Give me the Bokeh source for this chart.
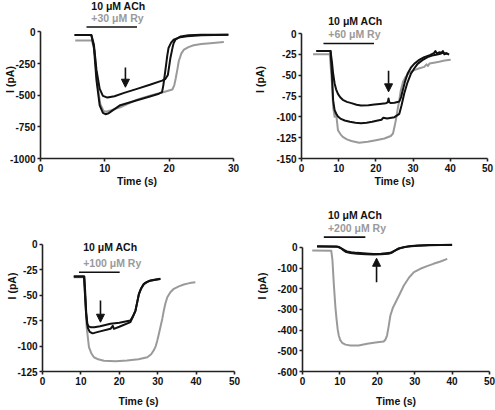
from bokeh.plotting import figure
from bokeh.layouts import column, row
from bokeh.models import Label, Arrow, NormalHead, FixedTicker, LinearAxis
from bokeh.embed import file_html
from bokeh.resources import INLINE

FONT = "Liberation Sans"
GRAY = "#9a9a9a"
BLACK = "#111111"

# ---------------- data ----------------
# Panel 1: 10 uM ACh + 30 uM Ry
p1_t_gray = [5.4, 8.0, 8.4, 8.8, 9.3, 9.8, 10.2, 11, 12.4, 15.0, 17, 19.2, 20.5, 20.8, 21.0, 21.3, 21.5, 21.9, 22.3, 23, 23.8, 25, 26.4, 28.5]
p1_i_gray = [-68, -68, -150, -400, -570, -625, -630, -618, -595, -535, -505, -475, -455, -420, -372, -290, -230, -170, -140, -120, -106, -95, -89, -80]
p1_t_blk_a = [5.3, 7.9, 8.3, 8.7, 9.2, 9.7, 10.4, 11.5, 13, 15, 17, 18.9, 19.4, 19.8, 20.2, 20.5, 20.7, 21.0, 21.8, 23, 25, 29.2]
p1_i_blk_a = [-25, -25, -100, -300, -450, -505, -519, -508, -482, -450, -418, -385, -372, -340, -204, -130, -88, -60, -36, -27, -23, -22]
p1_t_blk_b = [5.3, 7.9, 8.3, 8.7, 9.2, 9.7, 10.1, 10.6, 11.5, 12.4, 15, 17, 18.4, 18.9, 19.1, 19.4, 19.7, 19.9, 20.3, 20.7, 21.5, 22.8, 25, 29.2]
p1_i_blk_b = [-25, -25, -120, -380, -580, -640, -650, -642, -610, -579, -540, -510, -488, -475, -420, -307, -190, -127, -85, -62, -45, -34, -27, -22]
p1_ach = [7.15, 15.0]
p1_arrow = [13.2, -282, -437]
p1_xticks = [0, 10, 20, 30]
p1_yticks = [0, -250, -500, -750, -1000]

# Panel 2: 10 uM ACh + 60 uM Ry
p2_t_gray = [3.1, 7.6, 8.2, 8.5, 8.9, 9.3, 9.8, 10.5, 11.1, 12.2, 13.4, 15.5, 17.8, 20, 22.3, 24.0, 24.6, 25.0, 25.4, 25.8, 26.3, 26.7, 27.3, 28.0, 29, 30.3, 31.5, 33, 33.6, 34, 34.4, 35.6, 37, 38.5, 40.1]
p2_i_gray = [-25, -25, -60, -88, -100, -96, -116, -121, -124, -127, -129, -131, -130, -128, -126, -123, -120, -112, -103, -92, -80, -68, -58, -52, -47, -44, -42, -40, -37, -39, -36, -35, -34, -32.5, -31.6]
p2_t_blk_a = [4, 7.8, 8.2, 8.5, 8.9, 9.3, 9.8, 10.4, 11.1, 12.2, 13.4, 14.8, 16, 18, 19.6, 21, 22.7, 23.2, 23.4, 23.6, 24, 25, 26.3, 26.8, 27.2, 27.8, 28.5, 29.4, 30.3, 31.5, 33, 34.5, 35.6, 36, 36.4, 37, 38, 39.2]
p2_i_blk_a = [-21, -21, -35, -48, -60, -67, -72.4, -76.5, -79.6, -82, -83.6, -85.5, -86.4, -86, -85.2, -84.5, -83.6, -82.5, -78, -82.5, -83.5, -83, -81.6, -76, -68.4, -58, -48.4, -41, -36.4, -32, -28.4, -26, -23.6, -21, -24, -22.5, -23.5, -23.6]
p2_t_blk_b = [4, 7.8, 8.2, 8.5, 8.9, 9.3, 9.8, 10.6, 11.6, 13, 14.5, 16, 17.5, 19, 20.5, 21.5, 22, 23, 25, 26.3, 26.9, 27.6, 28.4, 29.4, 30.3, 31.2, 32.5, 33.9, 35.5, 37.4, 38, 38.4, 39, 39.7]
p2_i_blk_b = [-21, -21, -50, -80, -92, -96, -99.6, -102.5, -104.4, -106, -107, -107.6, -107, -106, -104.4, -103.5, -101, -102, -100.4, -96.4, -86, -72.4, -60, -48.4, -42, -36.4, -32, -28.4, -26, -24.4, -21, -25, -24, -25.2]
p2_ach = [5.9, 19.5]
p2_arrow = [23.4, -44.8, -70]
p2_xticks = [0, 10, 20, 30, 40, 50]
p2_yticks = [0, -25, -50, -75, -100, -125, -150]

# Panel 3: 10 uM ACh + 100 uM Ry
p3_t_gray = [8.15, 10.8, 11.1, 11.5, 12.1, 12.7, 13.4, 14.5, 16, 19, 22, 25, 27.3, 28.3, 29, 29.5, 29.9, 30.3, 30.7, 31.2, 31.6, 32.0, 32.5, 33.3, 34.2, 35.5, 36.8, 38.3, 39.8]
p3_i_gray = [-32.2, -32.2, -50, -81.4, -101, -107, -111, -113, -114.5, -115, -114.2, -113, -111, -108, -104, -100, -94.5, -88, -81.4, -73, -65, -58, -51.9, -47, -43.6, -41.2, -39.4, -38, -37.1]
p3_t_blk_a = [8.15, 10.8, 11.0, 11.3, 11.6, 12.0, 12.5, 13.5, 15, 17.7, 20, 22.9, 23.5, 24.2, 24.7, 25.1, 25.7, 26.4, 27.2, 28.1, 29.5, 30.7]
p3_i_blk_a = [-31.5, -31.5, -45, -65, -78, -80.5, -81.4, -81.5, -80.5, -78, -77, -74.8, -71, -65, -56, -48.6, -43, -38.7, -36.8, -35.4, -34.5, -33.8]
p3_t_blk_b = [8.15, 10.9, 11.1, 11.4, 11.8, 12.3, 12.9, 13.5, 15, 17.7, 18.3, 18.6, 20, 22.9, 23.5, 24.2, 24.7, 25.1, 25.7, 26.4, 27.2, 28.1, 29.5, 30.7]
p3_i_blk_b = [-31.5, -31.5, -45, -68, -82, -86, -87.3, -87, -85.5, -83, -80, -83, -81, -76.4, -71.5, -65.5, -56.5, -49, -43.3, -39, -37, -35.6, -34.7, -34]
p3_ach = [9.5, 20.1]
p3_arrow = [15.1, -55, -76.5]
p3_xticks = [0, 10, 20, 30, 40, 50]
p3_yticks = [0, -25, -50, -75, -100, -125]

# Panel 4: 10 uM ACh + 200 uM Ry
p4_t_gray = [2.6, 7.7, 8.0, 8.4, 8.8, 9.1, 9.4, 9.7, 10.1, 10.6, 11.5, 12.8, 15, 17.3, 19.5, 21.7, 22.2, 22.6, 23.0, 23.5, 24.2, 24.9, 26, 27.1, 28.5, 29.8, 31.5, 33.3, 35, 36.9, 38.7]
p4_i_gray = [-14.5, -16, -60, -184, -290, -345, -395, -426, -448, -461, -470, -474, -474, -466, -460, -455, -445, -426, -385, -329, -290, -265, -225, -184, -145, -119, -103, -90, -79, -68, -55]
p4_t_blk_a = [3.9, 9.3, 10, 10.6, 11.2, 11.9, 13, 14.6, 17, 19, 21, 23.5, 24.4, 25.3, 26.2, 27.1, 28.5, 30.7, 34, 37, 40]
p4_i_blk_a = [6, 4, -1, -6.5, -13, -19, -23, -26, -29, -31, -30, -26, -18, -9.7, -3, 1.6, 5.5, 9.7, 11.5, 12.5, 13]
p4_t_blk_b = [3.9, 9.0, 9.8, 10.4, 11.0, 11.7, 12.8, 14.6, 17, 19, 21, 23, 24, 25, 25.6, 26.5, 27.5, 29, 31, 34, 37, 40]
p4_i_blk_b = [5, 5, 2, -5, -14, -22, -27, -30, -33, -34, -33, -30, -24, -12, -5, -1, 3, 6, 8.5, 10.5, 11.5, 12]
p4_ach = [5.7, 16.8]
p4_arrow = [19.8, -168, -52]
p4_xticks = [0, 10, 20, 30, 40, 50]
p4_yticks = [0, -100, -200, -300, -400, -500, -600]

titles = ["10 μM ACh", "10 μM ACh", "10 μM ACh", "10 μM ACh"]
subtitles = ["+30 μM Ry", "+60 μM Ry", "+100 μM Ry", "+200 μM  Ry"]
x_label = "Time (s)"
y_label = "I (pA)"


def panel(width, height, xr, yr, borders, xticks, yticks, xstd, ystd, ylab_span,
          traces, ach, arrow, title, subtitle, text_x, text_y, bar_y):
    left, right, top, bottom = borders
    p = figure(width=width, height=height, x_range=xr, y_range=yr,
               output_backend="svg", toolbar_location=None,
               min_border_left=left, min_border_right=right,
               min_border_top=top, min_border_bottom=bottom,
               x_axis_label=x_label)
    p.outline_line_color = None
    p.grid.visible = False
    p.background_fill_color = "white"
    for ax, ticks in ((p.xaxis[0], xticks), (p.yaxis[0], yticks)):
        ax.ticker = FixedTicker(ticks=ticks)
        ax.major_label_overrides = {t: str(t) for t in ticks}
        ax.axis_line_width = 1.6
        ax.axis_line_color = "#222222"
        ax.major_tick_line_width = 1.6
        ax.major_tick_line_color = "#222222"
        ax.major_tick_out = 3
        ax.major_tick_in = 0
        ax.minor_tick_line_color = None
        ax.major_label_text_font = FONT
        ax.major_label_text_font_style = "bold"
        ax.major_label_text_font_size = "10px"
        ax.major_label_text_color = "#111111"
        ax.major_label_standoff = 2
    xa = p.xaxis[0]
    xa.axis_label_text_font = FONT
    xa.axis_label_text_font_style = "bold"
    xa.axis_label_text_font_size = "10.5px"
    xa.axis_label_text_color = "#111111"
    xa.axis_label_standoff = xstd
    p.xaxis[0].bounds = (xticks[0], xticks[-1])
    p.yaxis[0].bounds = (yticks[-1], yticks[0])
    # y-axis title: a tick-less companion axis stacked outside the y axis
    ylab = LinearAxis(axis_label=y_label, ticker=FixedTicker(ticks=[]), bounds=ylab_span,
                      axis_line_color=None, major_tick_line_color=None,
                      minor_tick_line_color=None, major_tick_out=0, major_tick_in=0,
                      major_label_standoff=0, axis_label_standoff=ystd,
                      axis_label_text_font=FONT, axis_label_text_font_style="bold",
                      axis_label_text_font_size="10.5px", axis_label_text_color="#111111")
    p.add_layout(ylab, "left")
    for (tx, iy, col) in traces:
        p.line(tx, iy, line_color=col, line_width=2, line_join="round")
    p.segment(x0=[ach[0]], x1=[ach[1]], y0=[bar_y], y1=[bar_y],
              line_color=BLACK, line_width=1.6)
    p.add_layout(Arrow(end=NormalHead(size=8, fill_color=BLACK, line_color=BLACK),
                       x_start=arrow[0], y_start=arrow[1], x_end=arrow[0], y_end=arrow[2],
                       line_color=BLACK, line_width=1.6))
    p.add_layout(Label(x=text_x, y=text_y[0], text=title, text_font=FONT,
                       text_font_style="bold", text_font_size="10.5px", text_color=BLACK,
                       text_align="left", text_baseline="middle"))
    p.add_layout(Label(x=text_x, y=text_y[1], text=subtitle, text_font=FONT,
                       text_font_style="bold", text_font_size="10.5px", text_color=GRAY,
                       text_align="left", text_baseline="middle"))
    return p


p1 = panel(250, 200, (0, 30), (-1000, 248), (40, 17, 0, 39), p1_xticks, p1_yticks, 0, -9, (-400, -250),
           [(p1_t_gray, p1_i_gray, GRAY), (p1_t_blk_a, p1_i_blk_a, BLACK), (p1_t_blk_b, p1_i_blk_b, BLACK)],
           p1_ach, p1_arrow, titles[0], subtitles[0], 7.9, (201, 108), 39)
p2 = panel(245, 200, (0, 50), (-150, 39.6), (50, 8, 0, 42), p2_xticks, p2_yticks, 0, 8, (-80, -54),
           [(p2_t_gray, p2_i_gray, GRAY), (p2_t_blk_a, p2_i_blk_a, BLACK), (p2_t_blk_b, p2_i_blk_b, BLACK)],
           p2_ach, p2_arrow, titles[1], subtitles[1], 7.2, (15.6, 0), -12)
p3 = panel(250, 210, (0, 50), (-125, 43.3), (42, 16, 0, 39), p3_xticks, p3_yticks, 7, -3, (-60, -44),
           [(p3_t_gray, p3_i_gray, GRAY), (p3_t_blk_a, p3_i_blk_a, BLACK), (p3_t_blk_b, p3_i_blk_b, BLACK)],
           p3_ach, p3_arrow, titles[2], subtitles[2], 10.6, (-2.6, -18.5), -27.3)
p4 = panel(245, 210, (0, 50), (-600, 227.4), (52, 6, 0, 39), p4_xticks, p4_yticks, 7, 7, (-250, -146),
           [(p4_t_gray, p4_i_gray, GRAY), (p4_t_blk_a, p4_i_blk_a, BLACK), (p4_t_blk_b, p4_i_blk_b, BLACK)],
           p4_ach, p4_arrow, titles[3], subtitles[3], 6.8, (155, 92), 50)

layout = column(row(p1, p2), row(p3, p4))
open("out.html", "w").write(file_html(layout, INLINE))
